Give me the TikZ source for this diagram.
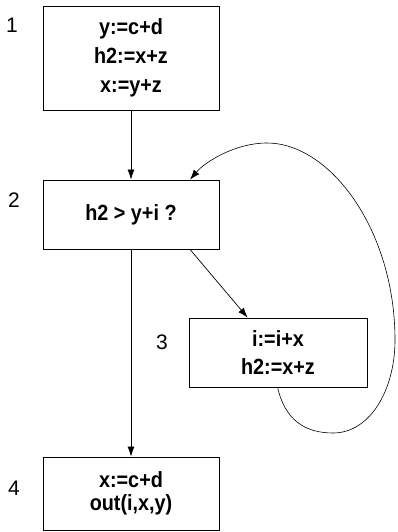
\documentclass[tikz,border=0pt]{standalone}
\usepackage{fontspec}
\setmainfont{Liberation Sans}
\newfontfamily\boxfont[FakeStretch=0.9]{Liberation Sans Bold}
\usetikzlibrary{arrows.meta}
\begin{document}
\begin{tikzpicture}[x=1pt,y=-1pt,
  blk/.style={draw,line width=0.8pt,inner sep=0pt,align=center,
    font=\boxfont\fontsize{22}{29}\selectfont},
  lbl/.style={inner sep=0pt,font=\fontsize{21}{22}\selectfont},
  edge/.style={line width=0.7pt,-{Latex[length=10pt,width=7pt]}}]
\useasboundingbox (0,0) rectangle (397,532);
\node[blk,minimum width=176pt,minimum height=104pt] (b1) at (131,58) {y:=c+d\\h2:=x+z\\x:=y+z};
\node[blk,minimum width=176pt,minimum height=69pt] (b2) at (131,214.5) {h2 > y+i ?};
\node[blk,minimum width=178pt,minimum height=69pt,font=\boxfont\fontsize{22}{28}\selectfont] (b3) at (278,352.5) {i:=i+x\\h2:=x+z};
\node[blk,minimum width=176pt,minimum height=73pt,font=\boxfont\fontsize{22}{23}\selectfont] (b4) at (131,493.5) {x:=c+d\\out(i,x,y)};
\node[lbl] (l1) at (12,25) {1};
\node[lbl] (l2) at (14,200) {2};
\node[lbl] (l3) at (162,342) {3};
\node[lbl] (l4) at (14,488) {4};
\draw[edge] (b1.south) -- (b2.north);
\draw[edge] (b2.south) -- (b4.north);
\draw[edge] ([xshift=59pt]b2.south) -- ([xshift=59pt]b3.north west);
\draw[edge,line width=0.6pt] ([xshift=89pt]b3.south west)
  .. controls (285,420) and (305,433) .. (333,433)
  .. controls (370,433) and (395,390) .. (395,340)
  .. controls (395,230) and (330,143) .. (267,143)
  .. controls (235,143) and (205,162) .. ([xshift=59pt]b2.north);
\end{tikzpicture}
\end{document}
